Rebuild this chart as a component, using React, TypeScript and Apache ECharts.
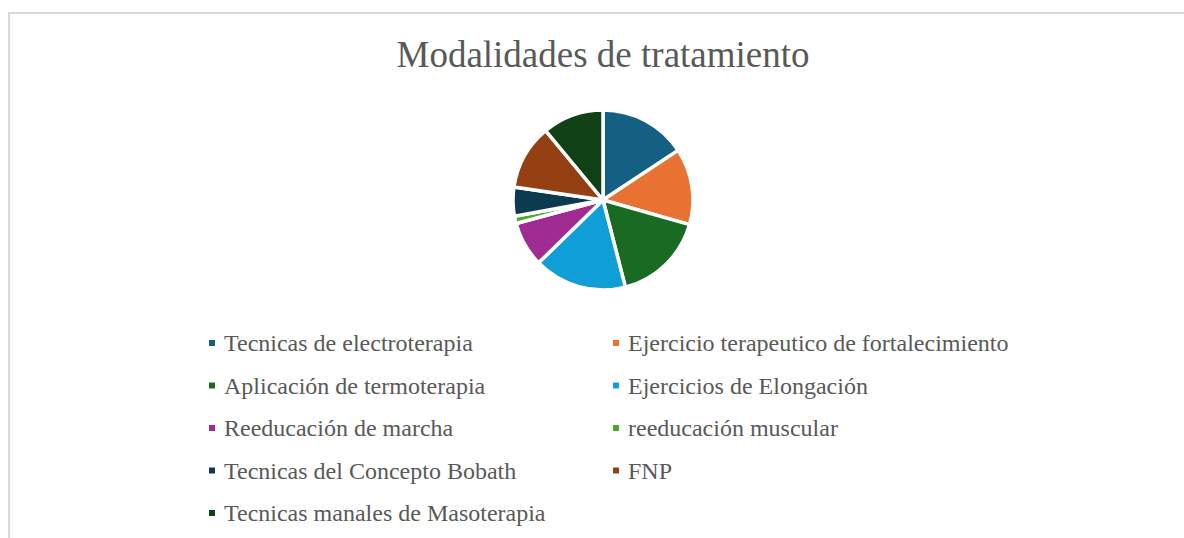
import React, { useEffect, useRef } from "react";
import * as echarts from "echarts";

const categories = [
  "Tecnicas de electroterapia",
  "Ejercicio terapeutico de fortalecimiento",
  "Aplicación de termoterapia",
  "Ejercicios de Elongación",
  "Reeducación de marcha",
  "reeducación muscular",
  "Tecnicas del Concepto Bobath",
  "FNP",
  "Tecnicas manales de Masoterapia",
];
const values = [15.7, 13.7, 16.6, 16.7, 8.1, 1.3, 5.2, 11.7, 11.0];
const colors = [
  "#156082",
  "#E97132",
  "#196B24",
  "#0F9ED5",
  "#A02B93",
  "#4EA72E",
  "#0D3A4F",
  "#954012",
  "#0F4016",
];
const leftColumn = [0, 2, 4, 6, 8].map((i) => categories[i]);
const rightColumn = [1, 3, 5, 7].map((i) => categories[i]);

export default function App() {
  const ref = useRef<HTMLDivElement>(null);
  useEffect(() => {
    if (!ref.current) return;
    const chart = echarts.init(ref.current, undefined, { renderer: "svg" });
    const font = "'Liberation Serif', 'Times New Roman', serif";
    const legendCommon = {
      orient: "vertical" as const,
      icon: "rect",
      itemWidth: 8,
      itemHeight: 8,
      itemGap: 16.5,
      selectedMode: false,
      textStyle: {
        fontFamily: font,
        fontSize: 24,
        color: "#595959",
        lineHeight: 26,
        padding: [0, 0, 0, 3],
      },
    };
    chart.setOption({
      animation: false,
      color: colors,
      title: {
        text: "Modalidades de tratamiento",
        left: 598,
        top: 31,
        textAlign: "center",
        textStyle: {
          fontFamily: font,
          fontSize: 37,
          fontWeight: "normal",
          color: "#595959",
        },
      },
      graphic: [
        {
          type: "rect",
          shape: { x: 9, y: 13, width: 1300, height: 700 },
          style: { fill: "none", stroke: "#d9d9d9", lineWidth: 2 },
          silent: true,
        },
      ],
      legend: [
        { ...legendCommon, left: 202, top: 325, data: leftColumn },
        { ...legendCommon, left: 606, top: 325, data: rightColumn },
      ],
      series: [
        {
          type: "pie",
          center: [603, 200],
          radius: 90,
          startAngle: 90,
          clockwise: true,
          label: { show: false },
          labelLine: { show: false },
          itemStyle: { borderColor: "#ffffff", borderWidth: 3.5 },
          emphasis: { disabled: true },
          data: categories.map((name, i) => ({ name, value: values[i] })),
        },
      ],
    });
    return () => chart.dispose();
  }, []);
  return (
    <div
      ref={ref}
      style={{ position: "fixed", left: 0, top: 0, width: 1184, height: 538, background: "#fff" }}
    />
  );
}
